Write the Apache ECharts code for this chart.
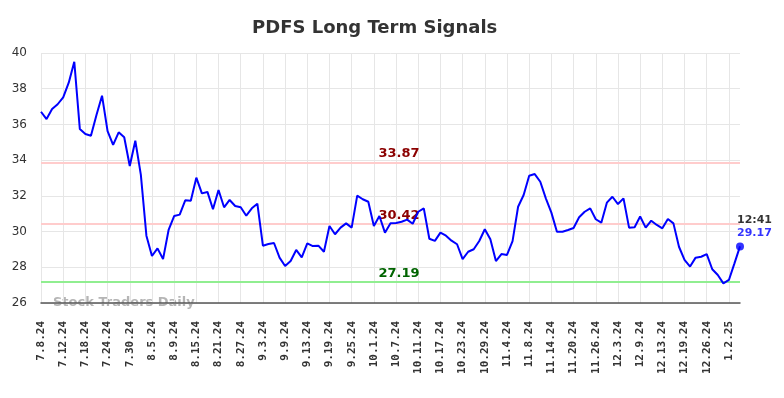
<!DOCTYPE html>
<html>
<head>
<meta charset="utf-8">
<script src="https://cdn.jsdelivr.net/npm/echarts@6/dist/echarts.min.js"></script>
<style>
  html, body { margin: 0; padding: 0; background: #fff; }
  #chart { width: 784px; height: 398px; }
</style>
</head>
<body>
<div id="chart"></div>
<script>
// trading days shown on the x axis
var dates = [
  '7.8.24','7.9.24','7.10.24','7.11.24','7.12.24','7.15.24','7.16.24','7.17.24','7.18.24','7.19.24',
  '7.22.24','7.23.24','7.24.24','7.25.24','7.26.24','7.29.24','7.30.24','7.31.24',
  '8.1.24','8.2.24','8.5.24','8.6.24','8.7.24','8.8.24','8.9.24','8.12.24','8.13.24','8.14.24',
  '8.15.24','8.16.24','8.19.24','8.20.24','8.21.24','8.22.24','8.23.24','8.26.24','8.27.24',
  '8.28.24','8.29.24','8.30.24',
  '9.3.24','9.4.24','9.5.24','9.6.24','9.9.24','9.10.24','9.11.24','9.12.24','9.13.24','9.16.24',
  '9.17.24','9.18.24','9.19.24','9.20.24','9.23.24','9.24.24','9.25.24','9.26.24','9.27.24','9.30.24',
  '10.1.24','10.2.24','10.3.24','10.4.24','10.7.24','10.8.24','10.9.24','10.10.24','10.11.24',
  '10.14.24','10.15.24','10.16.24','10.17.24','10.18.24','10.21.24','10.22.24','10.23.24',
  '10.24.24','10.25.24','10.28.24','10.29.24','10.30.24','10.31.24',
  '11.1.24','11.4.24','11.5.24','11.6.24','11.7.24','11.8.24','11.11.24','11.12.24','11.13.24',
  '11.14.24','11.15.24','11.18.24','11.19.24','11.20.24','11.21.24','11.22.24','11.25.24',
  '11.26.24','11.27.24','11.29.24',
  '12.2.24','12.3.24','12.4.24','12.5.24','12.6.24','12.9.24','12.10.24','12.11.24','12.12.24',
  '12.13.24','12.16.24','12.17.24','12.18.24','12.19.24','12.20.24','12.23.24','12.24.24',
  '12.26.24','12.27.24','12.30.24','12.31.24',
  '1.2.25','1.3.25','1.6.25'
];

// closing prices
var prices = [
  36.71, 36.30, 36.86, 37.13, 37.52, 38.34, 39.51, 35.74, 35.46, 35.37,
  36.53, 37.61, 35.63, 34.85, 35.56, 35.28, 33.67, 35.09, 33.17, 29.77,
  28.63, 29.06, 28.46, 30.09, 30.87, 30.95, 31.75, 31.73, 33.02, 32.14,
  32.22, 31.25, 32.33, 31.36, 31.77, 31.43, 31.36, 30.89, 31.30, 31.56,
  29.21, 29.30, 29.36, 28.54, 28.07, 28.35, 28.97, 28.56, 29.34, 29.19,
  29.21, 28.87, 30.31, 29.85, 30.22, 30.46, 30.22, 32.01, 31.81, 31.67,
  30.31, 30.87, 29.94, 30.46, 30.48, 30.55, 30.67, 30.44, 31.11, 31.30,
  29.60, 29.48, 29.94, 29.77, 29.49, 29.29, 28.46, 28.87, 29.01, 29.47,
  30.13, 29.57, 28.35, 28.74, 28.69, 29.47, 31.39, 32.05, 33.13, 33.22,
  32.79, 31.86, 31.06, 29.99, 29.99, 30.09, 30.20, 30.80, 31.11, 31.30,
  30.69, 30.50, 31.62, 31.95, 31.54, 31.86, 30.22, 30.24, 30.84, 30.22,
  30.61, 30.37, 30.18, 30.70, 30.46, 29.15, 28.41, 28.04, 28.54, 28.59,
  28.74, 27.89, 27.57, 27.10, 27.29, 28.22, 29.17
];

// signal levels
var levelValues = [33.87, 30.42, 27.19];
var levelLineColors = ['#ffcccc', '#ffcccc', '#90ee90'];
var levelTextColors = ['#8b0000', '#8b0000', '#006400'];

var lastTime = '12:41';

var chartDom = document.getElementById('chart');
var myChart = echarts.init(chartDom);
var option;

var lastIdx = prices.length - 1;
var lastPrice = prices[lastIdx];

var markData = levelValues.map(function (v, i) {
    return {
        yAxis: v,
        lineStyle: { color: levelLineColors[i], width: 2, type: 'solid' },
        label: {
            show: true,
            position: 'insideMiddleTop',
            distance: 2,
            padding: [0, 0, 0, 17],
            formatter: v.toFixed(2),
            color: levelTextColors[i],
            fontWeight: 'bold',
            fontSize: 13,
            fontFamily: 'DejaVu Sans'
        }
    };
});

option = {
    animation: false,
    backgroundColor: '#fff',
    title: {
        text: 'PDFS Long Term Signals',
        left: 247,
        top: 14,
        textStyle: { fontSize: 18, fontWeight: 'bold', color: '#333', fontFamily: 'DejaVu Sans' }
    },
    grid: { left: 41, right: 44, top: 53, bottom: 95 },
    xAxis: {
        type: 'category',
        data: dates,
        boundaryGap: false,
        axisLine: { lineStyle: { color: '#555', width: 1.5 } },
        axisTick: { show: false },
        axisLabel: {
            interval: 3,
            rotate: 90,
            margin: 18,
            color: '#333',
            fontSize: 11,
            fontWeight: 'bold',
            fontFamily: 'DejaVu Sans Mono'
        },
        splitLine: { show: true, interval: 3, lineStyle: { color: '#e6e6e6', width: 1 } }
    },
    yAxis: {
        type: 'value',
        min: 26,
        max: 40,
        interval: 2,
        axisLine: { show: false },
        axisTick: { show: false },
        axisLabel: { color: '#333', fontSize: 12, margin: 14, fontFamily: 'DejaVu Sans' },
        splitLine: { lineStyle: { color: '#e6e6e6', width: 1 } }
    },
    graphic: [{
        type: 'text',
        left: 53,
        top: 296,
        z: 0,
        style: {
            text: 'Stock Traders Daily',
            fill: 'rgba(150,150,150,0.7)',
            font: 'bold 13px "DejaVu Sans"'
        }
    }],
    series: [{
        type: 'line',
        data: prices,
        symbol: 'none',
        color: '#0000ff',
        lineStyle: { color: '#0000ff', width: 2 },
        z: 5,
        markLine: {
            silent: true,
            symbol: 'none',
            z: 3,
            data: markData
        }
    }, {
        type: 'scatter',
        data: [[lastIdx, lastPrice]],
        symbol: 'circle',
        symbolSize: 8,
        itemStyle: { color: '#0000ff' },
        z: 6,
        label: {
            show: true,
            position: 'top',
            align: 'left',
            distance: 3,
            offset: [-3, 0],
            formatter: '{t|' + lastTime + '}\n{p|' + lastPrice.toFixed(2) + '}',
            rich: {
                t: { color: '#000', fontWeight: 'bold', fontSize: 11, lineHeight: 13, fontFamily: 'DejaVu Sans' },
                p: { color: '#0000ff', fontWeight: 'bold', fontSize: 11, lineHeight: 13, fontFamily: 'DejaVu Sans' }
            }
        }
    }]
};

option && myChart.setOption(option);
</script>
</body>
</html>
